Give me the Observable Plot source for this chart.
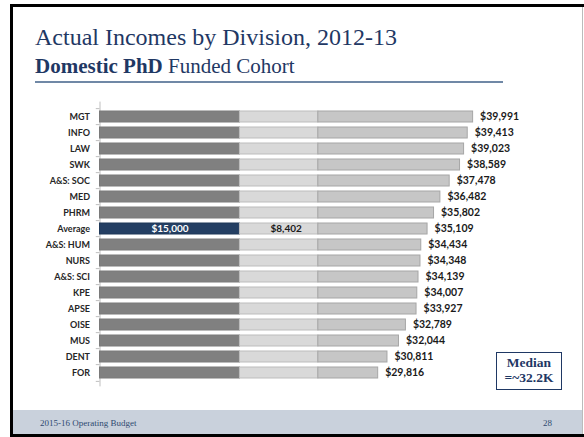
<!DOCTYPE html>
<html><head><meta charset="utf-8">
<script src="https://cdn.jsdelivr.net/npm/d3@7"></script>
<script src="https://cdn.jsdelivr.net/npm/@observablehq/plot@0.6"></script>
<style>
html,body{margin:0;padding:0;background:#fff;}
#slide{position:relative;width:584px;height:437px;overflow:hidden;background:#fff;}
#chart{position:absolute;left:0;top:0;}
.abs{position:absolute;}
#title{left:35px;top:25px;font-family:"Liberation Serif",serif;font-size:24px;color:#1f3864;white-space:nowrap;line-height:1;}
#subtitle{left:35px;top:56px;font-family:"Liberation Serif",serif;font-size:21px;color:#1f3864;white-space:nowrap;line-height:1;}
#rule{left:35px;top:81px;width:468px;height:2px;background:#7088a6;}
#median{left:496px;top:352px;width:64px;height:34px;border:1.5px solid #1f3864;font-family:"Liberation Serif",serif;font-weight:bold;font-size:13.5px;color:#1f3864;text-align:center;line-height:15px;padding-top:2px;box-sizing:content-box;}
#footer{left:13px;top:410px;width:570px;height:24px;background:#c9d1dc;}
#ftext{left:40px;top:418px;font-family:"Liberation Serif",serif;font-size:9px;color:#2e4a70;white-space:nowrap;}
#fnum{left:543px;top:418px;font-family:"Liberation Serif",serif;font-size:9px;color:#2e4a70;}
</style></head><body>
<div id="slide">
  <div id="footer" class="abs"></div>
  <div id="chart"></div>
  <div id="title" class="abs">Actual Incomes by Division, 2012-13</div>
  <div id="subtitle" class="abs"><b>Domestic PhD</b> Funded Cohort</div>
  <div id="rule" class="abs"></div>
  <div id="median" class="abs">Median<br>=~32.2K</div>
  <div id="ftext" class="abs">2015-16 Operating Budget</div>
  <div id="fnum" class="abs">28</div>
  <div class="abs" style="left:10px;top:4px;width:574px;height:3px;background:#000"></div>
  <div class="abs" style="left:10px;top:4px;width:3px;height:433px;background:#000"></div>
  <div class="abs" style="left:10px;top:434px;width:574px;height:3px;background:#000"></div>
  <div class="abs" style="left:582px;top:7px;width:1px;height:427px;background:#bbb"></div>
</div>
<script>
const categories = ["MGT","INFO","LAW","SWK","A&S: SOC","MED","PHRM","Average","A&S: HUM","NURS","A&S: SCI","KPE","APSE","OISE","MUS","DENT","FOR"];
const totals = [39991,39413,39023,38589,37478,36482,35802,35109,34434,34348,34139,34007,33927,32789,32044,30811,29816];
const baseValues = [15000,15000,15000,15000,15000,15000,15000,15000,15000,15000,15000,15000,15000,15000,15000,15000,15000];
const secondValues = [8402,8402,8402,8402,8402,8402,8402,8402,8402,8402,8402,8402,8402,8402,8402,8402,8402];
const highlight = "Average";

const rows = categories.flatMap((c, i) => [
  {cat: c, seg: "base", value: baseValues[i]},
  {cat: c, seg: "second", value: secondValues[i]},
  {cat: c, seg: "rest", value: totals[i] - baseValues[i] - secondValues[i]}
]);
const fillOf = d => d.seg === "base" ? (d.cat === highlight ? "#243f63" : "#808080") : d.seg === "second" ? "#d9d9d9" : "#c6c6c6";
const strokeOf = d => d.seg === "base" ? (d.cat === highlight ? "#1f3858" : "#7a7a7a") : d.seg === "second" ? "#bdbdbd" : "#a6a6a6";
const fmt = v => "$" + d3.format(",")(v);
const labelFont = "Lato, 'Open Sans', sans-serif";
const plotTop = 101.6, plotBottom = 386.4;
const step = (plotBottom - plotTop) / categories.length;
const hi = categories.indexOf(highlight);

const chart = Plot.plot({
  width: 584, height: 437,
  marginLeft: 99.5, marginRight: 18, marginTop: plotTop, marginBottom: 437 - plotBottom,
  x: {domain: [0, 50000], axis: null},
  y: {domain: categories, axis: null, paddingInner: 0.34, paddingOuter: 0.17},
  color: {type: "identity"},
  style: {background: "transparent", fontFamily: labelFont, overflow: "visible"},
  marks: [
    Plot.ruleX([0], {stroke: "#bfbfbf", strokeWidth: 1}),
    Plot.ruleY(categories, {y: d => d, x1: -400, x2: 0, dy: -step / 2, stroke: "#bfbfbf"}),
    Plot.ruleY([categories[categories.length - 1]], {y: d => d, x1: -400, x2: 0, dy: step / 2, stroke: "#bfbfbf"}),
    Plot.barX(rows, {x: "value", y: "cat", fill: fillOf, stroke: strokeOf, strokeWidth: 1}),
    Plot.text(categories, {y: d => d, x: 0, dx: -10, text: d => d, textAnchor: "end", fontWeight: "bold", fontSize: 9, fill: "#262626"}),
    Plot.text(categories, {y: d => d, x: (d, i) => totals[i], dx: 7, text: (d, i) => fmt(totals[i]), textAnchor: "start", fontWeight: "bold", fontSize: 10.5, fill: "#1a1a1a"}),
    Plot.text([highlight], {y: d => d, x: baseValues[hi] / 2, text: () => fmt(baseValues[hi]), fontWeight: "bold", fontSize: 10, fill: "#ffffff"}),
    Plot.text([highlight], {y: d => d, x: baseValues[hi] + secondValues[hi] / 2, dx: 7, text: () => fmt(secondValues[hi]), fontWeight: "bold", fontSize: 10, fill: "#1a1a1a"})
  ]
});
document.getElementById("chart").appendChild(chart);
</script>
</body></html>
